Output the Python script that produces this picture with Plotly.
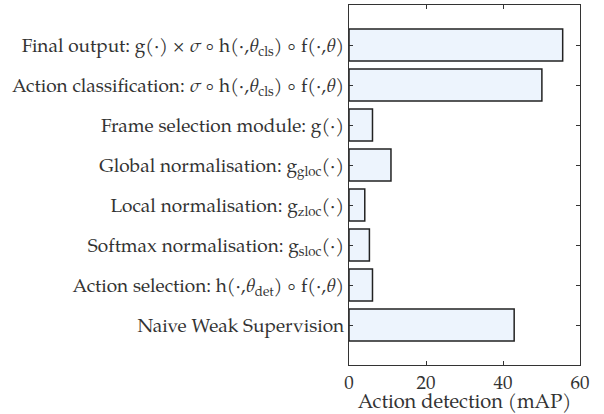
import plotly.graph_objects as go

categories = [
    "Final output: g(·) × <i>σ</i> ∘ h(·,<i>θ</i><sub>cls</sub>) ∘ f(·,<i>θ</i>)",
    "Action classification: <i>σ</i> ∘ h(·,<i>θ</i><sub>cls</sub>) ∘ f(·,<i>θ</i>)",
    "Frame selection module: g(·)",
    "Global normalisation: g<sub>gloc</sub>(·)",
    "Local normalisation: g<sub>zloc</sub>(·)",
    "Softmax normalisation: g<sub>sloc</sub>(·)",
    "Action selection: h(·,<i>θ</i><sub>det</sub>) ∘ f(·,<i>θ</i>)",
    "Naive Weak Supervision",
]
values = [55.5, 50.1, 6.1, 10.9, 4.1, 5.3, 6.1, 42.9]
x_ticks = [0, 20, 40, 60]

font_family = "Palatino, 'TeX Gyre Pagella', 'Liberation Serif', serif"

fig = go.Figure(
    go.Bar(
        x=values,
        y=categories,
        orientation="h",
        width=0.8,
        marker=dict(color="#EDF4FD", line=dict(color="#222222", width=1.5)),
    )
)

fig.update_layout(
    width=604,
    height=414,
    margin=dict(l=349, r=24, t=5, b=49),
    paper_bgcolor="white",
    plot_bgcolor="white",
    font=dict(family=font_family, size=19, color="#333333"),
    showlegend=False,
)

fig.update_xaxes(
    range=[0, 60],
    tickvals=x_ticks,
    ticks="inside",
    ticklen=4,
    tickcolor="#333333",
    showline=True,
    linecolor="#333333",
    linewidth=1.2,
    mirror="ticks",
    showgrid=False,
    zeroline=False,
    automargin=False,
    title=dict(text="Action detection (mAP)", standoff=0, font=dict(size=20)),
    tickfont=dict(size=19),
)

fig.update_yaxes(
    type="category",
    categoryorder="array",
    categoryarray=categories,
    range=[len(categories), -1],
    ticks="inside",
    ticklen=4,
    tickcolor="#333333",
    showline=True,
    linecolor="#333333",
    linewidth=1.2,
    mirror="ticks",
    showgrid=False,
    zeroline=False,
    automargin=False,
    tickfont=dict(size=19),
)

fig.write_html(
    "out.html",
    config={"displayModeBar": False},
    post_script="document.body.style.margin='0';document.body.style.overflow='hidden';",
)
